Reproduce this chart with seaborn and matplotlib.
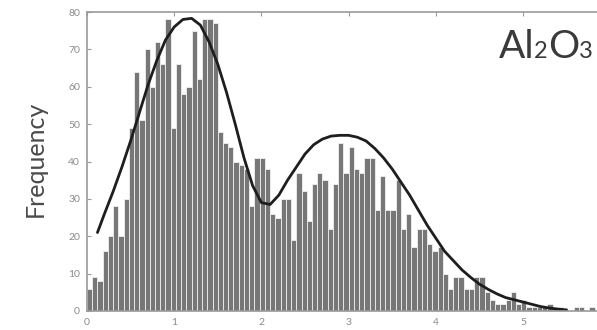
import numpy as np
import pandas as pd
import matplotlib
matplotlib.use("Agg")
import matplotlib.pyplot as plt
from matplotlib.offsetbox import TextArea, HPacker, AnchoredOffsetbox
import seaborn as sns

# Histogram of Al2O3 values: counts per bin (bin width 0.06, starting at 0)
bin_width = 0.06
counts = [
    6, 9, 8, 16, 20, 28, 20, 30, 49, 64,
    51, 70, 60, 72, 66, 78, 49, 66, 58, 60,
    75, 62, 78, 78, 77, 48, 45, 44, 40, 39,
    38, 28, 41, 41, 38, 26, 25, 30, 30, 19,
    37, 32, 24, 34, 37, 35, 22, 34, 45, 37,
    44, 38, 37, 41, 41, 27, 36, 27, 27, 35,
    22, 26, 17, 22, 22, 18, 16, 17, 10, 6,
    9, 9, 6, 6, 9, 9, 5, 3, 2, 2,
    3, 5, 2, 3, 1, 1, 1, 1, 2, 1,
    1, 0, 0, 1, 1, 0, 1,
]

# Fitted bimodal density curve (frequency scale)
fit_x = [0.12, 0.2, 0.3, 0.4, 0.5, 0.6, 0.7, 0.8, 0.9, 1.0,
         1.1, 1.2, 1.3, 1.4, 1.5, 1.6, 1.7, 1.8, 1.9, 2.0,
         2.1, 2.2, 2.3, 2.4, 2.5, 2.6, 2.7, 2.8, 2.9, 3.0,
         3.1, 3.2, 3.3, 3.4, 3.5, 3.6, 3.7, 3.8, 3.9, 4.0,
         4.1, 4.2, 4.3, 4.4, 4.5, 4.6, 4.7, 4.8, 4.9, 5.0,
         5.1, 5.2, 5.3, 5.4, 5.5]
fit_y = [21, 26, 32, 38.5, 45.5, 53, 60.5, 67, 72.5, 76,
         78, 78.3, 76.5, 72, 66, 58.5, 50, 41, 33.5, 29,
         28.5, 31, 35, 38.5, 42, 44.5, 46, 46.8, 47, 47,
         46.5, 45.5, 43.5, 41, 38, 34.5, 31, 27, 23, 19.5,
         16, 13.5, 11, 9, 7.2, 5.8, 4.6, 3.6, 3.0, 2.4,
         1.8, 1.2, 0.8, 0.5, 0.3]

x_ticks = [0, 1, 2, 3, 4, 5]
y_ticks = [0, 10, 20, 30, 40, 50, 60, 70, 80]

# Panel label pieces: (text, font size) -> "Al2O3" with small digits
label_parts = [("Al", 28), ("2", 17), ("O", 28), ("3", 17)]

sns.set_theme(style="white")
plt.rcParams["font.family"] = ["Lato", "DejaVu Sans"]

edges = [i * bin_width for i in range(len(counts) + 1)]
hist_df = pd.DataFrame({
    "value": [(a + b) / 2 for a, b in zip(edges[:-1], edges[1:])],
    "count": counts,
})
fit_df = pd.DataFrame({"x": fit_x, "y": fit_y})

fig = plt.figure(figsize=(5.97, 3.30), dpi=100)
ax = fig.add_axes([87 / 597, 19 / 330, 6 * 87.2 / 597, 299 / 330])

sns.histplot(data=hist_df, x="value", weights="count", bins=edges,
             color="#777777", edgecolor="#f0f0f0", linewidth=0.6, alpha=1, ax=ax)
sns.lineplot(data=fit_df, x="x", y="y", color="#1e1e1e", linewidth=2.0,
             sort=False, ax=ax)

ax.set_xlim(0, 6)
ax.set_ylim(0, 80)
ax.set_xticks(x_ticks)
ax.set_yticks(y_ticks)
ax.set_xticklabels([str(t) for t in x_ticks])
ax.set_yticklabels([str(t) for t in y_ticks])

for side in ["left", "top", "bottom"]:
    ax.spines[side].set_color("#9a9a9a")
    ax.spines[side].set_linewidth(1.2)
ax.spines["right"].set_visible(False)

ax.tick_params(direction="in", length=3, width=0.8, color="#9a9a9a",
               labelcolor="#8a8a8a", labelsize=7.5, top=True, bottom=True,
               left=True, labeltop=False, pad=5)

ax.set_xlabel("")
ax.set_ylabel("Frequency", fontsize=18, color="#4a4a4a")
ax.yaxis.set_label_coords(-0.0765, 0.508)

# "Al2O3" built from baseline-aligned pieces so the digits stay small but unshifted
pieces = [TextArea(txt, textprops=dict(fontsize=size, color="#3a3a3a"))
          for txt, size in label_parts]
packed = HPacker(children=pieces, align="baseline", pad=0, sep=0)
anchored = AnchoredOffsetbox(loc="upper right", child=packed, frameon=False,
                             pad=0, borderpad=0,
                             bbox_to_anchor=(593 / 597, 1 - 29 / 330),
                             bbox_transform=fig.transFigure)
ax.add_artist(anchored)

fig.savefig("out.png", dpi=100, facecolor="white")
